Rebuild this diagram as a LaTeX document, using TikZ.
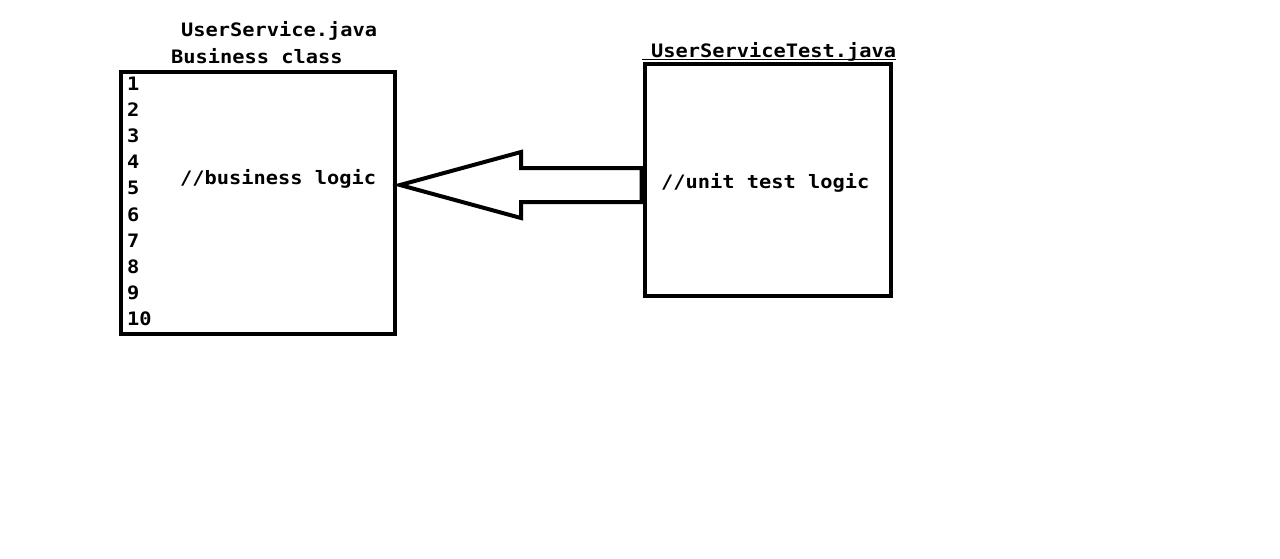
\documentclass[tikz,border=0pt]{standalone}
\usepackage{fontspec}
\usetikzlibrary{calc}
\newfontfamily\codefont[FakeStretch=1.1]{DejaVu Sans Mono Bold}
\begin{document}
\begin{tikzpicture}[x=1pt,y=-1pt,
  box/.style={draw,line width=4pt,inner sep=0pt,rectangle},
  lbl/.style={anchor=base west,inner sep=0pt,font=\codefont\fontsize{18.5}{20}\selectfont},
  blockarrow/.style={draw,line width=4pt,line join=miter,fill=white}]
\useasboundingbox[fill=white] (0,0) rectangle (1280,558);
% boxes
\node[box,minimum width=274pt,minimum height=262pt] (lbox) at (258,203) {};
\node[box,minimum width=246.5pt,minimum height=232pt] (rbox) at (767.75,180) {};
% titles
\node[lbl] (t1) at (181,36) {UserService.java};
\node[lbl] (t2) at (171,63) {Business class};
\node[lbl] (t3) at (651,57.5) {UserServiceTest.java};
\draw[line width=1.2pt] (642,59.8) -- (896,59.8);
% line numbers
\foreach \i in {1,...,10}{
  \node[lbl] (n\i) at (127,{90+26.2*(\i-1)}) {\i};
}
% contents
\node[lbl] (c1) at (180,184) {//business logic};
\node[lbl] (c2) at (661,188.5) {//unit test logic};
% block arrow
\coordinate (tip) at (400,185);
\coordinate (tail) at (641.5,185);
\draw[blockarrow] (tip) -- ++(121,-33) -- ++(0,16) -- ($(tail)+(0,-17)$) -- ($(tail)+(0,17)$) -- ($(tip)+(121,17)$) -- ++(0,16) -- cycle;
\fill ($(tail)+(-2,-19)$) rectangle ($(rbox.west)+(0,19)$);
\end{tikzpicture}
\end{document}
